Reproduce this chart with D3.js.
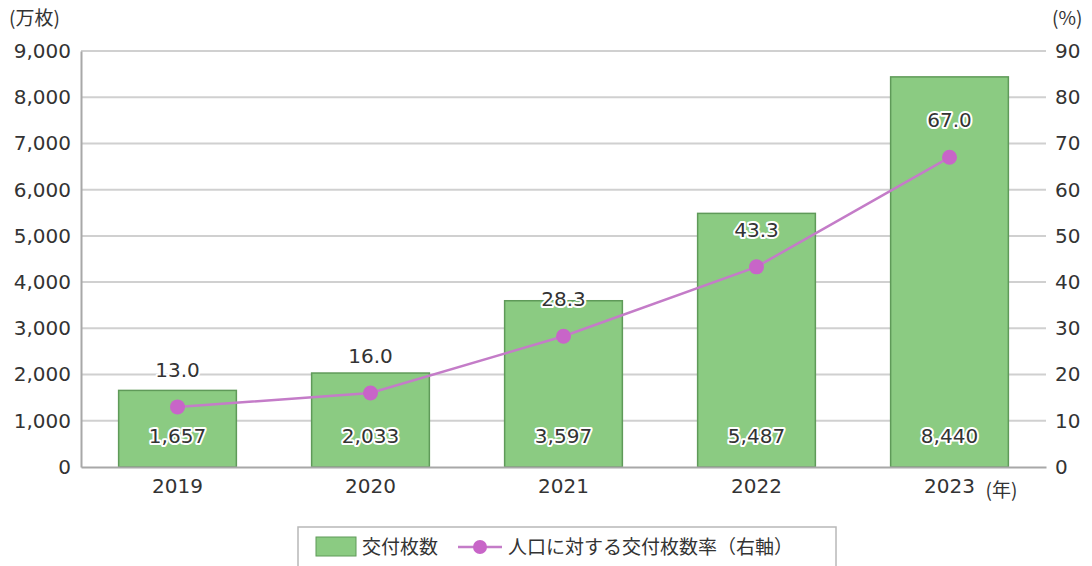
<!DOCTYPE html>
<html>
<head>
<meta charset="utf-8">
<script src="https://cdn.jsdelivr.net/npm/d3@7"></script>
<style>
  body { margin: 0; background: #fff; }
  text { font-family: "Noto Sans CJK JP", "Noto Sans", sans-serif; fill: #333; }
  .num { font-family: "DejaVu Sans", sans-serif; }
  .halo { stroke: #fff; stroke-width: 4px; paint-order: stroke; stroke-linejoin: round; }
</style>
</head>
<body>
<div id="chart"></div>
<script>
// data
let years = ["2019", "2020", "2021", "2022", "2023"];
let issued = [1657, 2033, 3597, 5487, 8440];       // 万枚
let rate = [13.0, 16.0, 28.3, 43.3, 67.0];          // %
let left_ticks = [0, 1000, 2000, 3000, 4000, 5000, 6000, 7000, 8000, 9000];
let right_ticks = [0, 10, 20, 30, 40, 50, 60, 70, 80, 90];

let width = 1092;
let height = 566;
let plot_left = 81;
let plot_right = 1046;
let plot_top = 51;
let plot_bottom = 467;

let bar_fill = "#8bcb82";
let bar_stroke = "#5f9a59";
let line_color = "#c47cc8";
let dot_color = "#c865c8";

let svg = d3.select("#chart").append("svg")
    .attr("width", width)
    .attr("height", height);

let x = d3.scaleBand()
    .domain(years)
    .range([plot_left, plot_right])
    .paddingInner(0.39)
    .paddingOuter(0.195);

let y_left = d3.scaleLinear().domain([0, 9000]).range([plot_bottom, plot_top]);
let y_right = d3.scaleLinear().domain([0, 90]).range([plot_bottom, plot_top]);

let fmt = d3.format(",");

// gridlines
svg.append("g")
    .selectAll("line")
    .data(left_ticks.slice(1))
    .enter()
    .append("line")
    .attr("x1", plot_left)
    .attr("x2", plot_right)
    .attr("y1", d => y_left(d))
    .attr("y2", d => y_left(d))
    .attr("stroke", "#d0d0d0")
    .attr("stroke-width", 2);

// left axis
let left_axis = svg.append("g")
    .attr("transform", "translate(" + plot_left + ",0)")
    .call(d3.axisLeft(y_left).tickValues(left_ticks).tickFormat(fmt).tickSize(0).tickPadding(10));
left_axis.select(".domain").attr("stroke", "#a8a8a8").attr("stroke-width", 2);
left_axis.selectAll("text")
    .classed("num", true)
    .style("font-size", "20px")
    .attr("fill", "#333");

// right axis
let right_axis = svg.append("g")
    .attr("transform", "translate(" + plot_right + ",0)")
    .call(d3.axisRight(y_right).tickValues(right_ticks).tickSize(0).tickPadding(9));
right_axis.select(".domain").remove();
right_axis.selectAll("text")
    .classed("num", true)
    .style("font-size", "20px")
    .attr("fill", "#333");

// unit labels
svg.append("text").attr("x", 9).attr("y", 25).style("font-size", "19px").text("(万枚)");
svg.append("text").attr("x", 1052).attr("y", 25).style("font-size", "19px").text("(%)");

// bars
svg.selectAll("rect.bar")
    .data(years)
    .enter()
    .append("rect")
    .classed("bar", true)
    .attr("x", d => x(d))
    .attr("y", (d, i) => y_left(issued[i]))
    .attr("width", x.bandwidth())
    .attr("height", (d, i) => plot_bottom - y_left(issued[i]))
    .attr("fill", bar_fill)
    .attr("stroke", bar_stroke)
    .attr("stroke-width", 1.5);

// bottom axis
let bottom_axis = svg.append("g")
    .attr("transform", "translate(0," + plot_bottom + ")")
    .call(d3.axisBottom(x).tickSize(0).tickPadding(12));
bottom_axis.select(".domain").attr("stroke", "#a8a8a8").attr("stroke-width", 2);
bottom_axis.selectAll("text")
    .classed("num", true)
    .style("font-size", "20px")
    .attr("fill", "#333");
svg.append("text")
    .attr("x", x("2023") + x.bandwidth() / 2 + 36)
    .attr("y", 497)
    .style("font-size", "19px")
    .text("(年)");

// bar value labels
svg.selectAll("text.bar_label")
    .data(years)
    .enter()
    .append("text")
    .classed("bar_label", true)
    .classed("num", true)
    .classed("halo", true)
    .attr("x", d => x(d) + x.bandwidth() / 2)
    .attr("y", 443)
    .attr("text-anchor", "middle")
    .style("font-size", "20px")
    .text((d, i) => fmt(issued[i]));

// rate line
let cx = d => x(d) + x.bandwidth() / 2;
let line = d3.line()
    .x(d => cx(d))
    .y((d, i) => y_right(rate[i]));
svg.append("path")
    .datum(years)
    .attr("d", line)
    .attr("fill", "none")
    .attr("stroke", line_color)
    .attr("stroke-width", 2.5);

svg.selectAll("circle.dot")
    .data(years)
    .enter()
    .append("circle")
    .classed("dot", true)
    .attr("cx", cx)
    .attr("cy", (d, i) => y_right(rate[i]))
    .attr("r", 7.5)
    .attr("fill", dot_color);

svg.selectAll("text.rate_label")
    .data(years)
    .enter()
    .append("text")
    .classed("rate_label", true)
    .classed("num", true)
    .classed("halo", true)
    .attr("x", cx)
    .attr("y", (d, i) => y_right(rate[i]) - 30)
    .attr("text-anchor", "middle")
    .style("font-size", "20px")
    .text((d, i) => rate[i].toFixed(1));

// legend
let legend = svg.append("g");
legend.append("rect")
    .attr("x", 298).attr("y", 527)
    .attr("width", 538).attr("height", 50)
    .attr("fill", "none")
    .attr("stroke", "#b8b8b8")
    .attr("stroke-width", 1.5);
legend.append("rect")
    .attr("x", 316).attr("y", 537)
    .attr("width", 40).attr("height", 19)
    .attr("fill", bar_fill)
    .attr("stroke", bar_stroke)
    .attr("stroke-width", 1);
legend.append("text")
    .attr("x", 362).attr("y", 554)
    .style("font-size", "19px")
    .text("交付枚数");
legend.append("line")
    .attr("x1", 458).attr("x2", 502)
    .attr("y1", 547).attr("y2", 547)
    .attr("stroke", line_color)
    .attr("stroke-width", 2.5);
legend.append("circle")
    .attr("cx", 480).attr("cy", 547)
    .attr("r", 7)
    .attr("fill", dot_color);
legend.append("text")
    .attr("x", 508).attr("y", 554)
    .style("font-size", "19px")
    .text("人口に対する交付枚数率（右軸）");
</script>
</body>
</html>
